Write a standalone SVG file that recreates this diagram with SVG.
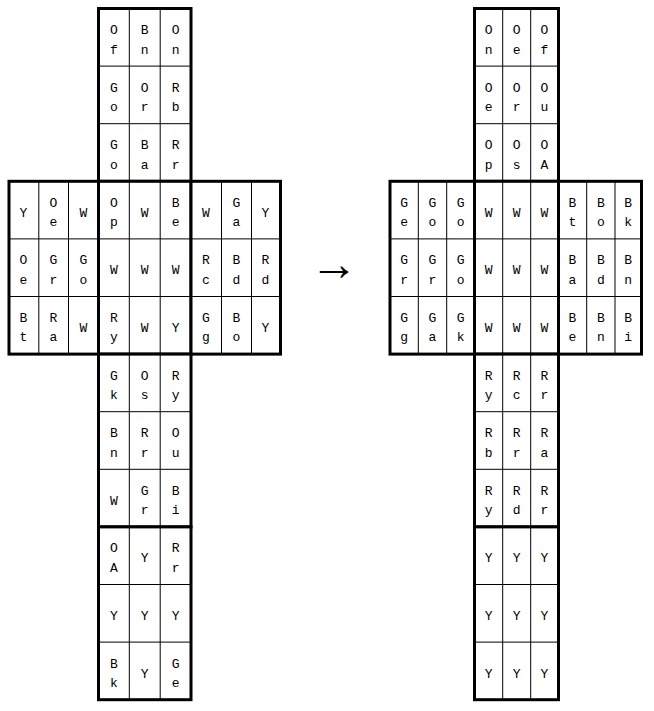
<svg xmlns="http://www.w3.org/2000/svg" width="654" height="711" viewBox="0 0 654 711">
<style>
.bg{fill:#fff;stroke:none}
.thin{fill:none;stroke:#000;stroke-width:1}
.frame{fill:none;stroke:#000;stroke-width:3}
.t{font-family:"Liberation Mono","Courier New",monospace;font-size:13px;fill:#000;text-anchor:middle}
.arr{font-family:"Liberation Sans",Arial,sans-serif;font-size:48px;fill:#000;text-anchor:middle}
</style>
<rect width="654" height="711" fill="#fff"/>
<!-- LEFT NET -->
<g id="before-top" transform="translate(98.5,8.5)">
<rect class="bg" width="92.5" height="172.8"/>
<path class="thin" d="M30.8 0V172.8M61.7 0V172.8M0 57.6H92.5M0 115.2H92.5"/>
<rect class="frame" width="92.5" height="172.8"/>
<text class="t" x="15.4" y="25.5">O</text><text class="t" x="15.4" y="45">f</text>
<text class="t" x="46.25" y="25.5">B</text><text class="t" x="46.25" y="45">n</text>
<text class="t" x="77.1" y="25.5">O</text><text class="t" x="77.1" y="45">n</text>
<text class="t" x="15.4" y="83.1">G</text><text class="t" x="15.4" y="102.6">o</text>
<text class="t" x="46.25" y="83.1">O</text><text class="t" x="46.25" y="102.6">r</text>
<text class="t" x="77.1" y="83.1">R</text><text class="t" x="77.1" y="102.6">b</text>
<text class="t" x="15.4" y="140.7">G</text><text class="t" x="15.4" y="160.2">o</text>
<text class="t" x="46.25" y="140.7">B</text><text class="t" x="46.25" y="160.2">a</text>
<text class="t" x="77.1" y="140.7">R</text><text class="t" x="77.1" y="160.2">r</text>
</g>
<g id="before-left" transform="translate(9,181.3)">
<rect class="bg" width="89.5" height="172.8"/>
<path class="thin" d="M29.8 0V172.8M59.5 0V172.8M0 57.6H89.5M0 115.2H89.5"/>
<rect class="frame" width="89.5" height="172.8"/>
<text class="t" x="14.5" y="35.5">Y</text>
<text class="t" x="44.5" y="25.5">O</text><text class="t" x="44.5" y="45">e</text>
<text class="t" x="74.5" y="35.5">W</text>
<text class="t" x="14.5" y="83.1">O</text><text class="t" x="14.5" y="102.6">e</text>
<text class="t" x="44.5" y="83.1">G</text><text class="t" x="44.5" y="102.6">r</text>
<text class="t" x="74.5" y="83.1">G</text><text class="t" x="74.5" y="102.6">o</text>
<text class="t" x="14.5" y="140.7">B</text><text class="t" x="14.5" y="160.2">t</text>
<text class="t" x="44.5" y="140.7">R</text><text class="t" x="44.5" y="160.2">a</text>
<text class="t" x="74.5" y="150.7">W</text>
</g>
<g id="before-front" transform="translate(98.5,181.3)">
<rect class="bg" width="92.5" height="172.8"/>
<path class="thin" d="M30.8 0V172.8M61.7 0V172.8M0 57.6H92.5M0 115.2H92.5"/>
<rect class="frame" width="92.5" height="172.8"/>
<text class="t" x="15.4" y="25.5">O</text><text class="t" x="15.4" y="45">p</text>
<text class="t" x="46.25" y="35.5">W</text>
<text class="t" x="77.1" y="25.5">B</text><text class="t" x="77.1" y="45">e</text>
<text class="t" x="15.4" y="93.1">W</text>
<text class="t" x="46.25" y="93.1">W</text>
<text class="t" x="77.1" y="93.1">W</text>
<text class="t" x="15.4" y="140.7">R</text><text class="t" x="15.4" y="160.2">y</text>
<text class="t" x="46.25" y="150.7">W</text>
<text class="t" x="77.1" y="150.7">Y</text>
</g>
<g id="before-right" transform="translate(191,181.3)">
<rect class="bg" width="89.5" height="172.8"/>
<path class="thin" d="M30.5 0V172.8M60.5 0V172.8M0 57.6H89.5M0 115.2H89.5"/>
<rect class="frame" width="89.5" height="172.8"/>
<text class="t" x="15" y="35.5">W</text>
<text class="t" x="45.5" y="25.5">G</text><text class="t" x="45.5" y="45">a</text>
<text class="t" x="74.5" y="35.5">Y</text>
<text class="t" x="15" y="83.1">R</text><text class="t" x="15" y="102.6">c</text>
<text class="t" x="45.5" y="83.1">B</text><text class="t" x="45.5" y="102.6">d</text>
<text class="t" x="74.5" y="83.1">R</text><text class="t" x="74.5" y="102.6">d</text>
<text class="t" x="15" y="140.7">G</text><text class="t" x="15" y="160.2">g</text>
<text class="t" x="45.5" y="140.7">B</text><text class="t" x="45.5" y="160.2">o</text>
<text class="t" x="74.5" y="150.7">Y</text>
</g>
<g id="before-bottom" transform="translate(98.5,354.1)">
<rect class="bg" width="92.5" height="172.8"/>
<path class="thin" d="M30.8 0V172.8M61.7 0V172.8M0 57.6H92.5M0 115.2H92.5"/>
<rect class="frame" width="92.5" height="172.8"/>
<text class="t" x="15.4" y="25.5">G</text><text class="t" x="15.4" y="45">k</text>
<text class="t" x="46.25" y="25.5">O</text><text class="t" x="46.25" y="45">s</text>
<text class="t" x="77.1" y="25.5">R</text><text class="t" x="77.1" y="45">y</text>
<text class="t" x="15.4" y="83.1">B</text><text class="t" x="15.4" y="102.6">n</text>
<text class="t" x="46.25" y="83.1">R</text><text class="t" x="46.25" y="102.6">r</text>
<text class="t" x="77.1" y="83.1">O</text><text class="t" x="77.1" y="102.6">u</text>
<text class="t" x="15.4" y="150.7">W</text>
<text class="t" x="46.25" y="140.7">G</text><text class="t" x="46.25" y="160.2">r</text>
<text class="t" x="77.1" y="140.7">B</text><text class="t" x="77.1" y="160.2">i</text>
</g>
<g id="before-back" transform="translate(98.5,526.9)">
<rect class="bg" width="92.5" height="172.8"/>
<path class="thin" d="M30.8 0V172.8M61.7 0V172.8M0 57.6H92.5M0 115.2H92.5"/>
<rect class="frame" width="92.5" height="172.8"/>
<text class="t" x="15.4" y="25.5">O</text><text class="t" x="15.4" y="45">A</text>
<text class="t" x="46.25" y="35.5">Y</text>
<text class="t" x="77.1" y="25.5">R</text><text class="t" x="77.1" y="45">r</text>
<text class="t" x="15.4" y="93.1">Y</text>
<text class="t" x="46.25" y="93.1">Y</text>
<text class="t" x="77.1" y="93.1">Y</text>
<text class="t" x="15.4" y="140.7">B</text><text class="t" x="15.4" y="160.2">k</text>
<text class="t" x="46.25" y="150.7">Y</text>
<text class="t" x="77.1" y="140.7">G</text><text class="t" x="77.1" y="160.2">e</text>
</g>
<!-- RIGHT NET -->
<g id="after-top" transform="translate(474.5,8.5)">
<rect class="bg" width="84" height="172.8"/>
<path class="thin" d="M28.2 0V172.8M56.2 0V172.8M0 57.6H84M0 115.2H84"/>
<rect class="frame" width="84" height="172.8"/>
<text class="t" x="14.1" y="25.5">O</text><text class="t" x="14.1" y="45">n</text>
<text class="t" x="42.2" y="25.5">O</text><text class="t" x="42.2" y="45">e</text>
<text class="t" x="70" y="25.5">O</text><text class="t" x="70" y="45">f</text>
<text class="t" x="14.1" y="83.1">O</text><text class="t" x="14.1" y="102.6">e</text>
<text class="t" x="42.2" y="83.1">O</text><text class="t" x="42.2" y="102.6">r</text>
<text class="t" x="70" y="83.1">O</text><text class="t" x="70" y="102.6">u</text>
<text class="t" x="14.1" y="140.7">O</text><text class="t" x="14.1" y="160.2">p</text>
<text class="t" x="42.2" y="140.7">O</text><text class="t" x="42.2" y="160.2">s</text>
<text class="t" x="70" y="140.7">O</text><text class="t" x="70" y="160.2">A</text>
</g>
<g id="after-left" transform="translate(390,181.3)">
<rect class="bg" width="84.5" height="172.8"/>
<path class="thin" d="M28.3 0V172.8M56.7 0V172.8M0 57.6H84.5M0 115.2H84.5"/>
<rect class="frame" width="84.5" height="172.8"/>
<text class="t" x="14.1" y="25.5">G</text><text class="t" x="14.1" y="45">e</text>
<text class="t" x="42.5" y="25.5">G</text><text class="t" x="42.5" y="45">o</text>
<text class="t" x="70.6" y="25.5">G</text><text class="t" x="70.6" y="45">o</text>
<text class="t" x="14.1" y="83.1">G</text><text class="t" x="14.1" y="102.6">r</text>
<text class="t" x="42.5" y="83.1">G</text><text class="t" x="42.5" y="102.6">r</text>
<text class="t" x="70.6" y="83.1">G</text><text class="t" x="70.6" y="102.6">o</text>
<text class="t" x="14.1" y="140.7">G</text><text class="t" x="14.1" y="160.2">g</text>
<text class="t" x="42.5" y="140.7">G</text><text class="t" x="42.5" y="160.2">a</text>
<text class="t" x="70.6" y="140.7">G</text><text class="t" x="70.6" y="160.2">k</text>
</g>
<g id="after-front" transform="translate(474.5,181.3)">
<rect class="bg" width="84" height="172.8"/>
<path class="thin" d="M28.2 0V172.8M56.2 0V172.8M0 57.6H84M0 115.2H84"/>
<rect class="frame" width="84" height="172.8"/>
<text class="t" x="14.1" y="35.5">W</text><text class="t" x="42.2" y="35.5">W</text><text class="t" x="70" y="35.5">W</text>
<text class="t" x="14.1" y="93.1">W</text><text class="t" x="42.2" y="93.1">W</text><text class="t" x="70" y="93.1">W</text>
<text class="t" x="14.1" y="150.7">W</text><text class="t" x="42.2" y="150.7">W</text><text class="t" x="70" y="150.7">W</text>
</g>
<g id="after-right" transform="translate(558.5,181.3)">
<rect class="bg" width="83" height="172.8"/>
<path class="thin" d="M28.2 0V172.8M56.5 0V172.8M0 57.6H83M0 115.2H83"/>
<rect class="frame" width="83" height="172.8"/>
<text class="t" x="14" y="25.5">B</text><text class="t" x="14" y="45">t</text>
<text class="t" x="42.3" y="25.5">B</text><text class="t" x="42.3" y="45">o</text>
<text class="t" x="69.7" y="25.5">B</text><text class="t" x="69.7" y="45">k</text>
<text class="t" x="14" y="83.1">B</text><text class="t" x="14" y="102.6">a</text>
<text class="t" x="42.3" y="83.1">B</text><text class="t" x="42.3" y="102.6">d</text>
<text class="t" x="69.7" y="83.1">B</text><text class="t" x="69.7" y="102.6">n</text>
<text class="t" x="14" y="140.7">B</text><text class="t" x="14" y="160.2">e</text>
<text class="t" x="42.3" y="140.7">B</text><text class="t" x="42.3" y="160.2">n</text>
<text class="t" x="69.7" y="140.7">B</text><text class="t" x="69.7" y="160.2">i</text>
</g>
<g id="after-bottom" transform="translate(474.5,354.1)">
<rect class="bg" width="84" height="172.8"/>
<path class="thin" d="M28.2 0V172.8M56.2 0V172.8M0 57.6H84M0 115.2H84"/>
<rect class="frame" width="84" height="172.8"/>
<text class="t" x="14.1" y="25.5">R</text><text class="t" x="14.1" y="45">y</text>
<text class="t" x="42.2" y="25.5">R</text><text class="t" x="42.2" y="45">c</text>
<text class="t" x="70" y="25.5">R</text><text class="t" x="70" y="45">r</text>
<text class="t" x="14.1" y="83.1">R</text><text class="t" x="14.1" y="102.6">b</text>
<text class="t" x="42.2" y="83.1">R</text><text class="t" x="42.2" y="102.6">r</text>
<text class="t" x="70" y="83.1">R</text><text class="t" x="70" y="102.6">a</text>
<text class="t" x="14.1" y="140.7">R</text><text class="t" x="14.1" y="160.2">y</text>
<text class="t" x="42.2" y="140.7">R</text><text class="t" x="42.2" y="160.2">d</text>
<text class="t" x="70" y="140.7">R</text><text class="t" x="70" y="160.2">r</text>
</g>
<g id="after-back" transform="translate(474.5,526.9)">
<rect class="bg" width="84" height="172.8"/>
<path class="thin" d="M28.2 0V172.8M56.2 0V172.8M0 57.6H84M0 115.2H84"/>
<rect class="frame" width="84" height="172.8"/>
<text class="t" x="14.1" y="35.5">Y</text><text class="t" x="42.2" y="35.5">Y</text><text class="t" x="70" y="35.5">Y</text>
<text class="t" x="14.1" y="93.1">Y</text><text class="t" x="42.2" y="93.1">Y</text><text class="t" x="70" y="93.1">Y</text>
<text class="t" x="14.1" y="150.7">Y</text><text class="t" x="42.2" y="150.7">Y</text><text class="t" x="70" y="150.7">Y</text>
</g>
<g id="connectors">
<text class="arr" x="334" y="280">→</text>
</g>
</svg>
